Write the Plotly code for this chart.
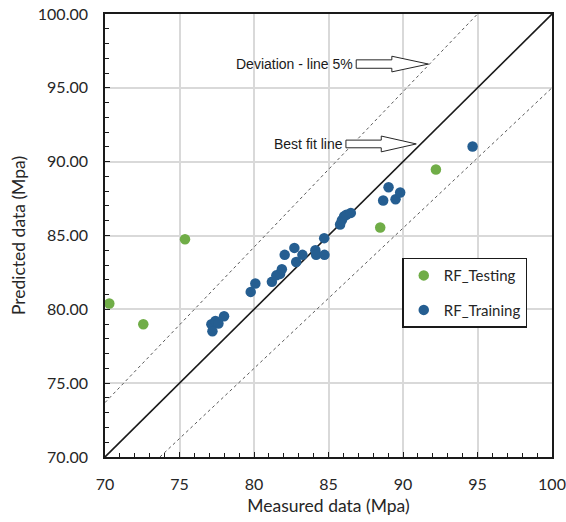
import plotly.graph_objects as go

# Random-forest model: measured vs predicted strength (MPa)
test_measured = [70.29, 72.57, 75.37, 88.47, 92.21]
test_predicted = [80.39, 78.99, 84.75, 85.54, 89.47]

train_measured = [77.14, 77.41, 77.61, 77.99, 77.21,
                  79.78, 80.09, 81.20, 81.50, 81.75, 81.87,
                  82.06, 82.71, 82.83, 83.25, 84.12, 84.17, 84.71, 84.73,
                  85.78, 85.90, 86.05, 86.20, 86.50,
                  88.67, 89.03, 89.50, 89.81, 94.67]
train_predicted = [78.99, 79.21, 79.04, 79.53, 78.52,
                   81.18, 81.75, 81.86, 82.30, 82.40, 82.72,
                   83.69, 84.16, 83.21, 83.69, 84.00, 83.69, 84.82, 83.69,
                   85.75, 86.04, 86.31, 86.40, 86.53,
                   87.37, 88.27, 87.46, 87.91, 91.03]

axis_min, axis_max = 70, 100
deviation = 0.05

GREEN = "#70AD47"
BLUE = "#255E91"
BASE_FONT = "Lato, Calibri, sans-serif"
TICK_FONT = dict(family=BASE_FONT, size=16, color="#262626")

fig = go.Figure()

# 1:1 reference line and +/-5 % deviation bands
fig.add_trace(go.Scatter(x=[axis_min, axis_max], y=[axis_min, axis_max], mode="lines",
                         line=dict(color="#1a1a1a", width=1.6), showlegend=False, hoverinfo="skip"))
fig.add_trace(go.Scatter(x=[axis_min, axis_max * (1 - deviation)],
                         y=[axis_min / (1 - deviation), axis_max], mode="lines",
                         line=dict(color="#595959", width=1, dash="3px,3px"),
                         showlegend=False, hoverinfo="skip"))
fig.add_trace(go.Scatter(x=[axis_min / (1 - deviation), axis_max],
                         y=[axis_min, axis_max * (1 - deviation)], mode="lines",
                         line=dict(color="#595959", width=1, dash="3px,3px"),
                         showlegend=False, hoverinfo="skip"))

fig.add_trace(go.Scatter(x=test_measured, y=test_predicted, mode="markers", name="RF_Testing",
                         legendgroup="test",
                         marker=dict(color=GREEN, size=10.5, line=dict(width=0))))
fig.add_trace(go.Scatter(x=train_measured, y=train_predicted, mode="markers", name="RF_Training",
                         legendgroup="train",
                         marker=dict(color=BLUE, size=10.5, line=dict(width=0))))


def block_arrow(x0, x1, x2, yc, body_h, head_h):
    """Outlined block arrow: body from x0 to x1, head tip at x2 (data coords)."""
    b, h = body_h / 2, head_h / 2
    return (f"M{x0},{yc - b} L{x1},{yc - b} L{x1},{yc - h} L{x2},{yc} "
            f"L{x1},{yc + h} L{x1},{yc + b} L{x0},{yc + b} Z")


arrows = [
    # (body start, head start, tip, centre y, body height, head height)
    (86.86, 89.25, 91.71, 96.61, 0.57, 1.06),
    (86.17, 88.54, 90.89, 91.20, 0.52, 1.07),
]
for x0, x1, x2, yc, bh, hh in arrows:
    fig.add_shape(type="path", path=block_arrow(x0, x1, x2, yc, bh, hh), xref="x", yref="y",
                  line=dict(color="#262626", width=1), fillcolor="white", layer="above")

ANN_FONT = dict(family="Liberation Sans, Arial, sans-serif", size=14, color="#1a1a1a")
fig.add_annotation(x=86.78, y=96.61, text="Deviation - line 5%", showarrow=False,
                   xanchor="right", yanchor="middle", font=ANN_FONT)
fig.add_annotation(x=86.08, y=91.20, text="Best fit line", showarrow=False,
                   xanchor="right", yanchor="middle", font=ANN_FONT)

axis_common = dict(
    range=[axis_min, axis_max], dtick=5, tick0=axis_min,
    showgrid=True, gridcolor="#D9D9D9", gridwidth=1.5,
    showline=True, linecolor="#1a1a1a", linewidth=1.6, mirror=True,
    ticks="inside", ticklen=5, tickwidth=1.2, tickcolor="#1a1a1a",
    minor=dict(dtick=1, ticks="inside", ticklen=4, tickwidth=1.2, tickcolor="#1a1a1a",
               showgrid=False),
    zeroline=False, tickfont=TICK_FONT, automargin=False,
    ticklabelstandoff=12,
)

fig.update_layout(
    width=566, height=522,
    margin=dict(l=105, r=14, t=14, b=65),
    paper_bgcolor="white", plot_bgcolor="white",
    xaxis=dict(**axis_common,
               title=dict(text="Measured data (Mpa)", standoff=8,
                          font=dict(family=BASE_FONT, size=17.5, color="#262626"))),
    yaxis=dict(**axis_common, tickformat=".2f",
               title=dict(text="Predicted data (Mpa)", standoff=8,
                          font=dict(family=BASE_FONT, size=17.5, color="#262626"))),
    legend=dict(x=0.665, y=0.45, xanchor="left", yanchor="top",
                bordercolor="#1a1a1a", borderwidth=1.5, bgcolor="white",
                tracegroupgap=12,
                font=dict(family=BASE_FONT, size=15, color="#262626")),
    showlegend=True,
)

fig.write_html("out.html")
